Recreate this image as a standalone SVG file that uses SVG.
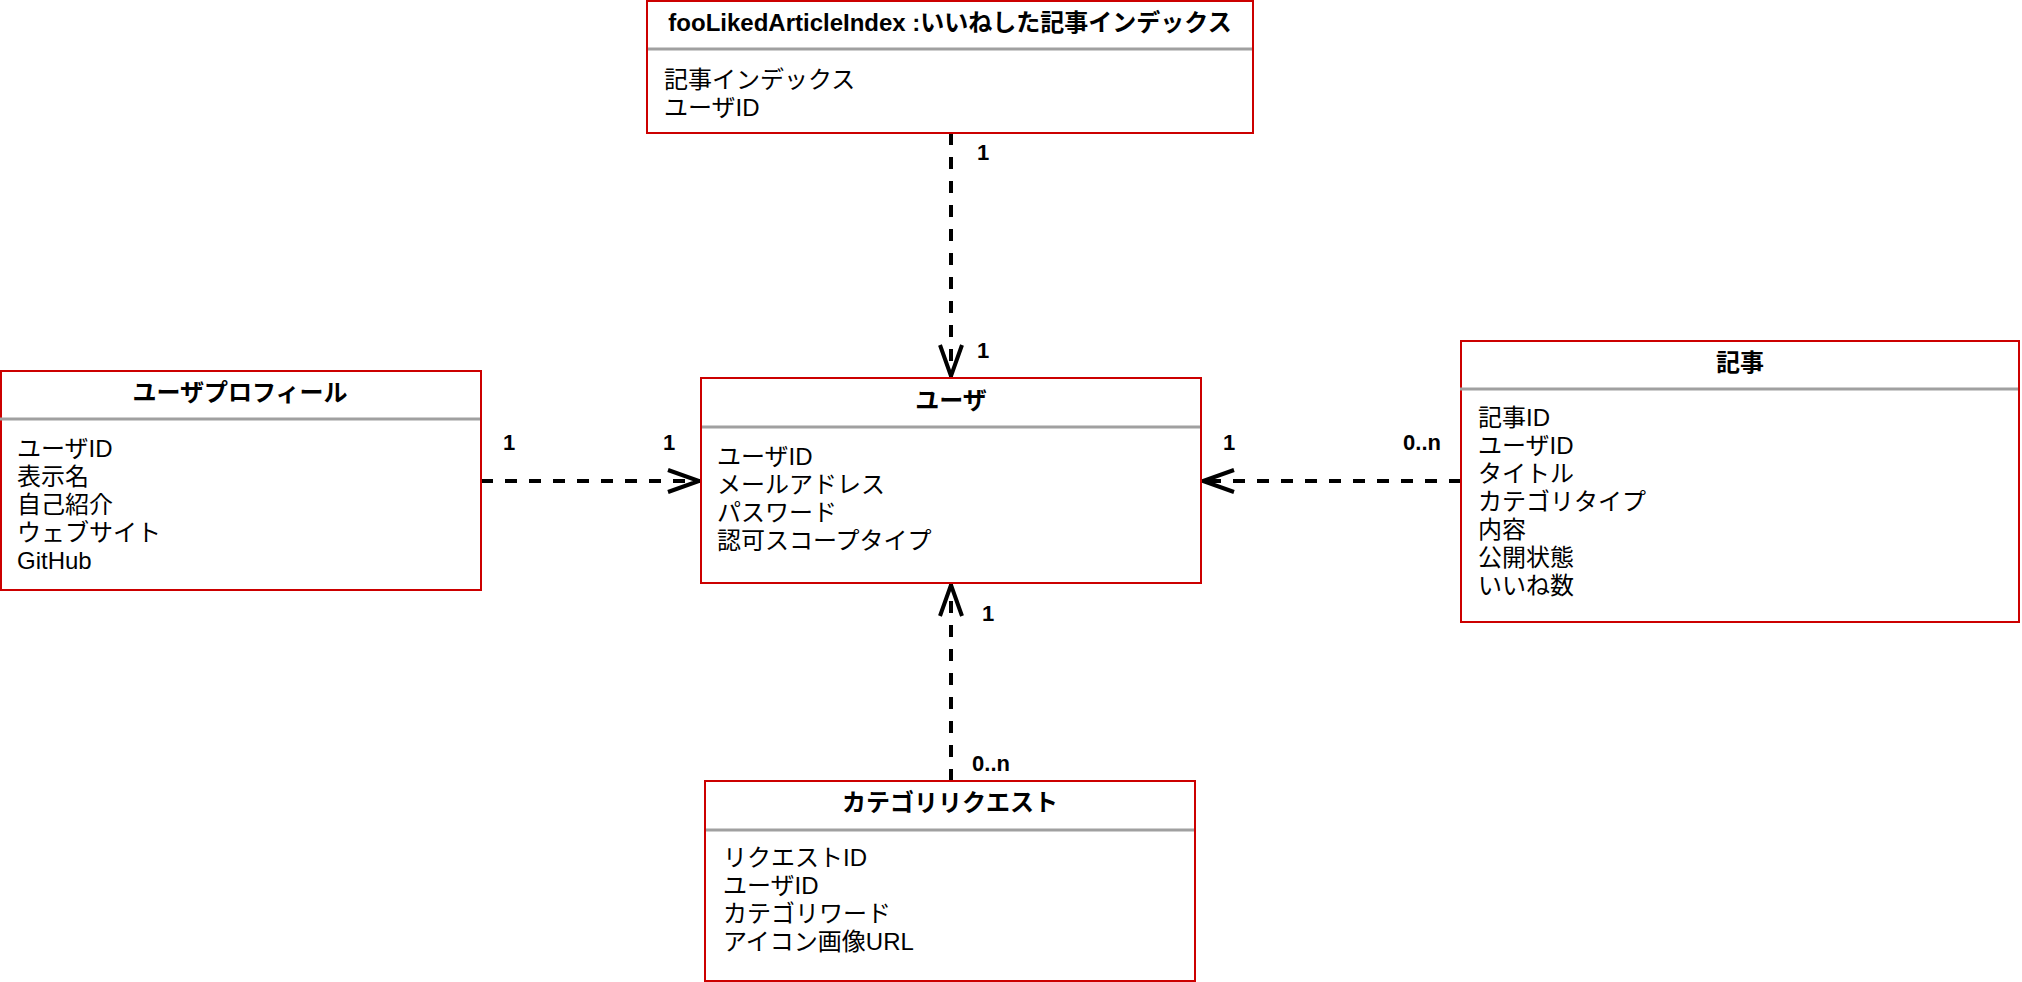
<svg xmlns="http://www.w3.org/2000/svg" width="2022" height="982" viewBox="0 0 2022 982">
  <style>
    .box { fill: #ffffff; stroke: #cc0000; stroke-width: 2; }
    .sep { stroke: #a0a0a0; stroke-width: 3; }
    .title { font-family: "Liberation Sans", "Noto Sans CJK JP", sans-serif; font-size: 24px; font-weight: bold; fill: #000; text-anchor: middle; }
    .item { font-family: "Liberation Sans", "Noto Sans CJK JP", sans-serif; font-size: 24px; fill: #000; }
    .edge { fill: none; stroke: #000; stroke-width: 4; stroke-dasharray: 12 12; }
    .mult { font-family: "Liberation Sans", "Noto Sans CJK JP", sans-serif; font-size: 22px; font-weight: bold; fill: #000; text-anchor: middle; }
  </style>
  <defs>
    <marker id="open-arrow" markerUnits="userSpaceOnUse" markerWidth="44" markerHeight="34" viewBox="-38 -17 44 34" refX="0" refY="0" orient="auto">
      <path d="M-33,-11 L-2,0 L-33,11" fill="none" stroke="#000" stroke-width="4"/>
    </marker>
  </defs>
  <rect width="2022" height="982" fill="#ffffff"/>

  <!-- connectors -->
  <g id="connectors">
    <line class="edge" x1="951" y1="133" x2="951" y2="378" marker-end="url(#open-arrow)"/>
    <line class="edge" x1="481" y1="481" x2="701" y2="481" marker-end="url(#open-arrow)"/>
    <line class="edge" x1="1461" y1="481" x2="1201" y2="481" marker-end="url(#open-arrow)"/>
    <line class="edge" x1="951" y1="781" x2="951" y2="583" marker-end="url(#open-arrow)"/>
    <text class="mult" x="983" y="160">1</text>
    <text class="mult" x="983" y="358">1</text>
    <text class="mult" x="509" y="450">1</text>
    <text class="mult" x="669" y="450">1</text>
    <text class="mult" x="1229" y="450">1</text>
    <text class="mult" x="1422" y="450">0..n</text>
    <text class="mult" x="988" y="621">1</text>
    <text class="mult" x="991" y="771">0..n</text>
  </g>

  <!-- liked article index -->
  <g id="liked-article-index">
    <rect class="box" x="647" y="1" width="606" height="132"/>
    <line class="sep" x1="648" y1="49" x2="1252" y2="49"/>
    <text class="title" x="950" y="31">fooLikedArticleIndex :いいねした記事インデックス</text>
    <text class="item" x="664" y="88">記事インデックス</text>
    <text class="item" x="664" y="116">ユーザID</text>
  </g>

  <!-- user profile -->
  <g id="user-profile">
    <rect class="box" x="1" y="371" width="480" height="219"/>
    <line class="sep" x1="0" y1="419" x2="480" y2="419"/>
    <text class="title" x="240" y="401">ユーザプロフィール</text>
    <text class="item" x="17" y="457">ユーザID</text>
    <text class="item" x="17" y="485">表示名</text>
    <text class="item" x="17" y="513">自己紹介</text>
    <text class="item" x="17" y="541">ウェブサイト</text>
    <text class="item" x="17" y="569">GitHub</text>
  </g>

  <!-- user -->
  <g id="user">
    <rect class="box" x="701" y="378" width="500" height="205"/>
    <line class="sep" x1="702" y1="427" x2="1200" y2="427"/>
    <text class="title" x="951" y="409">ユーザ</text>
    <text class="item" x="717" y="465">ユーザID</text>
    <text class="item" x="717" y="493">メールアドレス</text>
    <text class="item" x="717" y="521">パスワード</text>
    <text class="item" x="717" y="549">認可スコープタイプ</text>
  </g>

  <!-- article -->
  <g id="article">
    <rect class="box" x="1461" y="341" width="558" height="281"/>
    <line class="sep" x1="1460" y1="389" x2="2018" y2="389"/>
    <text class="title" x="1740" y="371">記事</text>
    <text class="item" x="1478" y="426">記事ID</text>
    <text class="item" x="1478" y="454">ユーザID</text>
    <text class="item" x="1478" y="482">タイトル</text>
    <text class="item" x="1478" y="510">カテゴリタイプ</text>
    <text class="item" x="1478" y="538">内容</text>
    <text class="item" x="1478" y="566">公開状態</text>
    <text class="item" x="1478" y="594">いいね数</text>
  </g>

  <!-- category request -->
  <g id="category-request">
    <rect class="box" x="705" y="781" width="490" height="200"/>
    <line class="sep" x1="706" y1="830" x2="1194" y2="830"/>
    <text class="title" x="950" y="811">カテゴリリクエスト</text>
    <text class="item" x="723" y="866">リクエストID</text>
    <text class="item" x="723" y="894">ユーザID</text>
    <text class="item" x="723" y="922">カテゴリワード</text>
    <text class="item" x="723" y="950">アイコン画像URL</text>
  </g>
</svg>
